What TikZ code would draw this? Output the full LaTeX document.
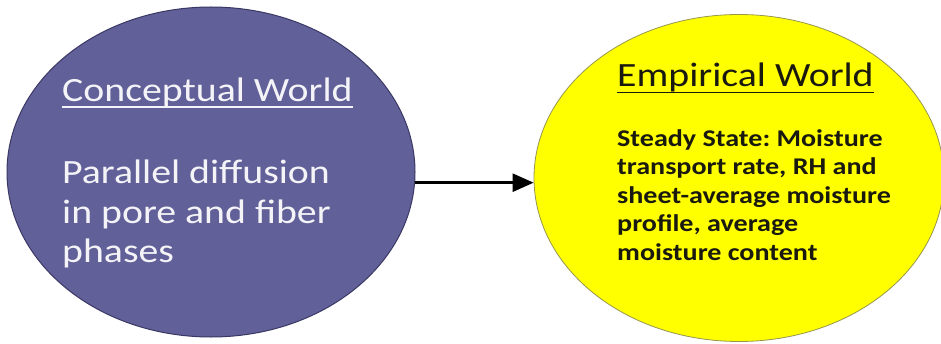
\documentclass[tikz,border=0pt]{standalone}
\usepackage{fontspec}
\setmainfont[FakeStretch=1.17]{Carlito}
\usetikzlibrary{shapes.geometric,arrows.meta}
\definecolor{purplefill}{RGB}{98,96,152}
\definecolor{purpleedge}{RGB}{58,56,100}
\definecolor{yellowfill}{RGB}{255,255,0}
\definecolor{yellowedge}{RGB}{150,150,80}
\definecolor{lighttext}{RGB}{244,244,248}
\definecolor{darktext}{RGB}{25,25,15}
\frenchspacing
\begin{document}
\begin{tikzpicture}[x=1pt,y=1pt,
  world/.style={ellipse, inner sep=0pt},
  txt/.style={anchor=base west, inner sep=0pt},
  headL/.style={txt, text=lighttext, font=\fontsize{34}{40}\selectfont},
  bodyL/.style={txt, text=lighttext, font=\fontsize{34}{40}\selectfont},
  headR/.style={txt, text=darktext, font=\fontsize{34}{40}\selectfont},
  bodyR/.style={txt, text=darktext, font=\fontsize{24}{28}\selectfont\bfseries},
  uline/.style={line width=1.8pt}
]
\useasboundingbox (0,0) rectangle (941,343);
\fill[white] (0,0) rectangle (941,343);

\node[world, draw=purpleedge, line width=1pt, fill=purplefill,
      minimum width=408pt, minimum height=330pt] (cw) at (211,171) {};
\node[world, draw=yellowedge, line width=0.8pt, fill=yellowfill,
      minimum width=410pt, minimum height=327pt] (ew) at (739,165) {};

\coordinate (astart) at (cw.-3);
\draw[line width=2.6pt, -{Triangle[length=21pt,width=18pt]}] (astart) -- (astart -| ew.west);

% left texts
\node[headL] (cwt) at (62,241.5) {Conceptual World};
\draw[uline, lighttext] ([yshift=-5.5pt]cwt.base west) -- ([yshift=-5.5pt]cwt.base east);
\node[bodyL] (l1) at (62,160) {Parallel diffusion};
\node[bodyL] (l2) at (62,120) {in pore and fiber};
\node[bodyL] (l3) at (62,81) {phases};

% right texts
\node[headR] (ewt) at (617,256) {Empirical World};
\draw[uline, darktext] ([yshift=-5.5pt]ewt.base west) -- ([yshift=-5.5pt]ewt.base east);
\node[bodyR] (r1) at (617,196) {Steady State: Moisture};
\node[bodyR] (r2) at (617,168) {transport rate, RH and};
\node[bodyR] (r3) at (617,140) {sheet-average moisture};
\node[bodyR] (r4) at (617,112) {profile, average};
\node[bodyR] (r5) at (617,83) {moisture content};
\end{tikzpicture}
\end{document}
